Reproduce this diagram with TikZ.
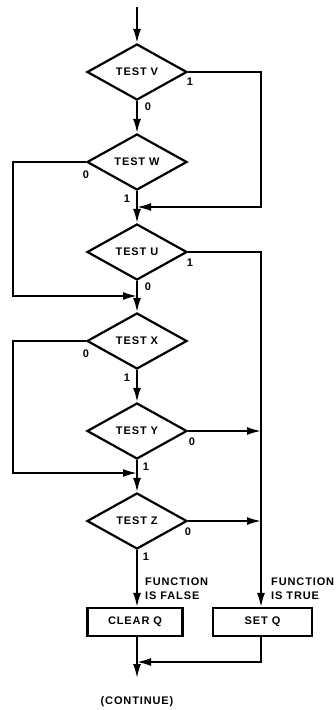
\documentclass[tikz,border=0pt]{standalone}
\usepackage{fontspec}
\setmainfont{Liberation Sans}[LetterSpace=8]
\usetikzlibrary{shapes.geometric,arrows.meta}
\begin{document}
\begin{tikzpicture}[x=1pt,y=-1pt,
  every node/.style={font=\fontsize{11}{14}\selectfont\bfseries},
  test/.style={draw,diamond,line width=2.2pt,minimum width=100pt,minimum height=56pt,inner sep=0pt,line join=miter},
  act/.style={draw,rectangle,line width=2.2pt,minimum height=28pt,inner sep=0pt},
  conn/.style={line width=1.8pt},
  arr/.style={conn,-{Latex[length=14pt,width=8pt]}},
  lbl/.style={inner sep=0pt}]
\useasboundingbox (0,0) rectangle (335,710);
\node[test] (V) at (137,72) {TEST V};
\node[test] (W) at (137,162) {TEST W};
\node[test] (U) at (137,252) {TEST U};
\node[test] (X) at (137,341) {TEST X};
\node[test] (Y) at (137,431) {TEST Y};
\node[test] (Z) at (137,521) {TEST Z};
\node[act,minimum width=95pt] (clr) at (135,622) {CLEAR Q};
\node[act,minimum width=99pt] (set) at (262.5,622) {SET Q};
\node[lbl] (cont) at (137,702) {(CONTINUE)};
\coordinate (start) at (137,7);
\coordinate (j1) at (137,207);
\coordinate (r1) at (261,207);
\coordinate (j2) at (137,296);
\coordinate (l2) at (13,296);
\coordinate (j3) at (137,473);
\coordinate (l3) at (13,473);
\coordinate (ry) at (261,431);
\coordinate (rz) at (261,521);
\coordinate (j4) at (137,662);
\coordinate (s4) at (261,662);
\coordinate (cend) at (137,678);
% connectors
\draw[arr] (start) -- (V.north);
\draw[arr] (V.south) -- (W.north);
\draw[arr] (V.east) -| (r1) -- (j1);
\draw[arr] (W.south) -- (U.north);
\draw[arr] (W.west) -| (l2) -- (j2);
\draw[arr] (U.south) -- (X.north);
\draw[arr] (U.east) -| (set.north -| r1);
\draw[arr] (X.west) -| (l3) -- (j3);
\draw[arr] (X.south) -- (Y.north);
\draw[arr] (Y.east) -- (ry);
\draw[arr] (Y.south) -- (Z.north);
\draw[arr] (Z.east) -- (rz);
\draw[arr] (Z.south) -- (Z.south |- clr.north);
\draw[conn] (clr.south -| Z.south) -- (j4);
\draw[arr] (j4) -- (cend);
\draw[arr] (set.south -| r1) -- (s4) -- (j4);
% labels
\node[lbl] (v1) at (190,82) {1};
\node[lbl] (v0) at (148,107) {0};
\node[lbl] (w0) at (86,175) {0};
\node[lbl] (w1) at (127,199) {1};
\node[lbl] (u1) at (190,263) {1};
\node[lbl] (u0) at (148,287) {0};
\node[lbl] (x0) at (86,354) {0};
\node[lbl] (x1) at (127,378) {1};
\node[lbl] (y0) at (192,442) {0};
\node[lbl] (y1) at (146,467) {1};
\node[lbl] (z0) at (188,532) {0};
\node[lbl] (z1) at (146,557) {1};
\node[lbl,anchor=west,align=left] (ff) at (145,589) {FUNCTION\\IS FALSE};
\node[lbl,anchor=west,align=left] (ft) at (271,589) {FUNCTION\\IS TRUE};
\end{tikzpicture}
\end{document}
